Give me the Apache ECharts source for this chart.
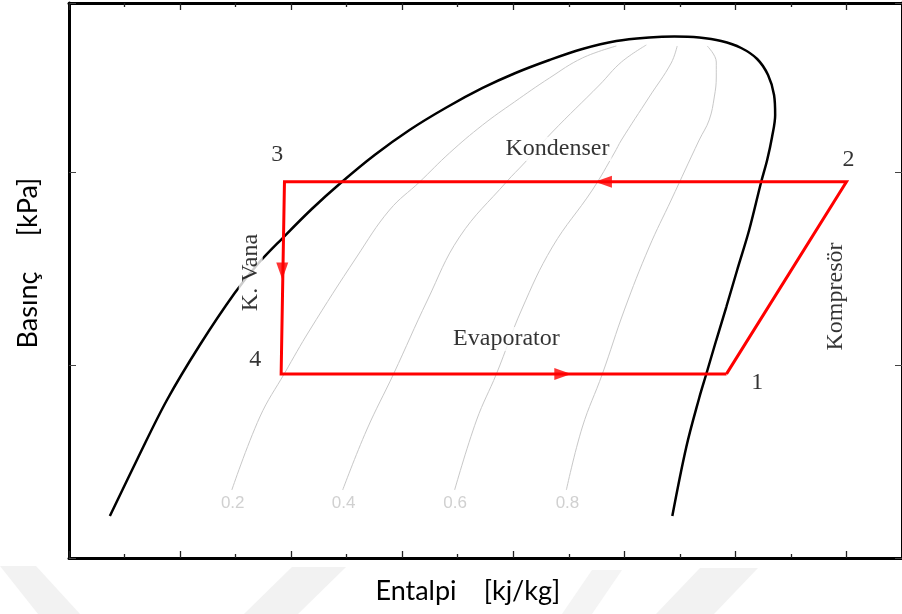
<!DOCTYPE html>
<html>
<head>
<meta charset="utf-8">
<title>Basınç - Entalpi</title>
<script src="https://cdn.jsdelivr.net/npm/echarts@6/dist/echarts.min.js"></script>
<style>
  html, body { margin: 0; padding: 0; background: #fff; }
  #chart { width: 902px; height: 614px; }
</style>
</head>
<body>
<div id="chart"></div>
<script>
// Saturation dome (liquid side -> critical region -> vapour side)
const domeEnthalpy = [168.4, 181.0, 194.1, 208.9, 224.6, 235.0, 246.2, 259.3, 272.8, 287.6, 303.3, 319.5, 336.2, 351.0, 366.3, 381.1, 396.4, 411.2, 422.5, 433.7, 443.6, 452.6, 459.8, 464.7, 467.4, 467.9, 466.5, 464.3, 461.6, 456.2, 450.8, 445.9, 441.4, 436.9, 433.7, 427.9, 421.6];
const domePressure = [108.8, 259.1, 409.4, 551.9, 686.6, 761.8, 829.1, 904.3, 974.2, 1044.2, 1109.0, 1166.0, 1217.8, 1256.6, 1290.3, 1318.8, 1339.5, 1348.6, 1351.2, 1348.6, 1339.5, 1321.4, 1292.9, 1251.4, 1199.6, 1147.8, 1090.8, 1031.2, 974.2, 849.8, 746.2, 650.3, 564.8, 476.7, 414.6, 287.6, 108.8];

// Constant-quality lines
const qualityLevels = ['0.2', '0.4', '0.6', '0.8'];
const q02Enthalpy = [223.3, 235.9, 247.1, 258.4, 279.5, 294.3, 307.8, 321.3, 336.2, 350.5, 366.3, 381.1, 396.4];
const q02Pressure = [176.2, 365.3, 479.3, 590.7, 779.9, 901.7, 974.2, 1049.4, 1121.9, 1181.5, 1243.7, 1295.5, 1326.6];
const q04Enthalpy = [273.2, 284.0, 296.1, 311.4, 325.8, 346.9, 355.0, 367.6, 388.8, 398.7, 409.9];
const q04Pressure = [176.2, 331.6, 476.7, 668.5, 831.7, 974.2, 1023.4, 1103.8, 1225.5, 1285.1, 1329.2];
const q06Enthalpy = [323.6, 333.5, 342.4, 353.7, 367.6, 385.6, 395.5, 398.7, 411.2, 421.1, 423.8];
const q06Pressure = [176.2, 357.6, 476.7, 642.6, 805.8, 953.5, 1049.4, 1083.0, 1194.5, 1282.5, 1326.6];
const q08Enthalpy = [373.9, 381.1, 390.1, 400.0, 411.2, 421.1, 433.7, 438.2, 440.5, 441.4, 441.4, 437.3];
const q08Pressure = [176.2, 339.4, 476.7, 642.6, 805.8, 927.6, 1083.0, 1134.9, 1194.5, 1246.3, 1285.1, 1326.6];
const qualityLabelEnthalpy = [223.7, 273.6, 323.8, 374.4];
const qualityLabelPressure = [142.5, 142.5, 142.5, 142.5];

// Refrigeration cycle 1 -> 2 -> 3 -> 4 -> 1
const cycleEnthalpy = [446.0, 500.0, 247.0, 245.5, 446.0];
const cyclePressure = [477, 975, 975, 477, 477];

// Flow direction arrows (on 2-3, 3-4, 4-1)
const arrowEnthalpy = [390.6, 246.0, 372.3];
const arrowPressure = [975, 743.6, 477];
const arrowAngle = [90, 180, -90];

// State point numbers and component names
const stateNames = ['1', '2', '3', '4'];
const stateEnthalpy = [459.8, 500.9, 243.7, 233.9];
const statePressure = [453.4, 1032.5, 1044.2, 514.3];
const componentNames = ['Kondenser', 'Evaporator', 'K. Vana', 'Kompresör'];
const componentEnthalpy = [369.9, 346.9, 231.8, 495.3];
const componentPressure = [1059.7, 567.4, 739.7, 677.5];
const componentVertical = [false, false, true, true];

const zip = (xs, ys) => xs.map((x, i) => [x, ys[i]]);

const serifText = {
  fontFamily: 'Liberation Serif', fontSize: 24, color: '#000',
  textBorderWidth: 0, textBorderColor: 'transparent', textShadowBlur: 0
};

function frameX(position) {
  return {
    type: 'value', position: position, min: 150, max: 525, interval: 50,
    axisLine: { show: true, onZero: false, lineStyle: { color: '#000', width: 3 } },
    axisTick: { show: true, inside: true, length: 7, lineStyle: { color: '#222', width: 1.3 } },
    minorTick: { show: true, splitNumber: 2, length: 4, lineStyle: { color: '#222', width: 1.3 } },
    axisLabel: { show: false }, splitLine: { show: false }, minorSplitLine: { show: false }
  };
}
function frameY(position) {
  return {
    type: 'value', position: position, min: 0, max: 1438, interval: 500,
    axisLine: { show: true, onZero: false, lineStyle: { color: '#000', width: 3 } },
    axisTick: { show: true, inside: true, length: 7, lineStyle: { color: '#444', width: 1 } },
    axisLabel: { show: false }, splitLine: { show: false }
  };
}

function qualitySeries(h, p) {
  return {
    type: 'line', data: zip(h, p), smooth: 0.4, showSymbol: false, silent: true, z: 1,
    lineStyle: { color: '#c8c8c8', width: 1 }
  };
}

const axisTitle = { fontFamily: 'Lato', fontSize: 27, fill: '#000', align: 'center', verticalAlign: 'middle' };

const chart = echarts.init(document.getElementById('chart'), null, { renderer: 'canvas' });

chart.setOption({
  animation: false,
  backgroundColor: '#fff',
  grid: { left: 69, top: 3, width: 834, height: 555 },
  xAxis: [frameX('bottom'), frameX('top')],
  yAxis: [frameY('left'), frameY('right')],
  graphic: [
    { type: 'polygon', silent: true, z: -10, shape: { points: [[0, 566], [36, 566], [80, 614], [38, 614]] }, style: { fill: '#f2f2f2' } },
    { type: 'polygon', silent: true, z: -10, shape: { points: [[292, 567], [346, 567], [298, 614], [244, 614]] }, style: { fill: '#f2f2f2' } },
    { type: 'polygon', silent: true, z: -10, shape: { points: [[592, 570], [622, 570], [592, 614], [562, 614]] }, style: { fill: '#f4f4f4' } },
    { type: 'polygon', silent: true, z: -10, shape: { points: [[700, 568], [758, 568], [714, 614], [656, 614]] }, style: { fill: '#f2f2f2' } },
    { type: 'text', x: 416, y: 591, z: 10, style: Object.assign({ text: 'Entalpi' }, axisTitle) },
    { type: 'text', x: 522, y: 591, z: 10, style: Object.assign({ text: '[kj/kg]' }, axisTitle) },
    { type: 'text', x: 28, y: 310, rotation: Math.PI / 2, z: 10, style: Object.assign({ text: 'Basınç' }, axisTitle) },
    { type: 'text', x: 28, y: 207, rotation: Math.PI / 2, z: 10, style: Object.assign({ text: '[kPa]' }, axisTitle) }
  ],
  series: [
    qualitySeries(q02Enthalpy, q02Pressure),
    qualitySeries(q04Enthalpy, q04Pressure),
    qualitySeries(q06Enthalpy, q06Pressure),
    qualitySeries(q08Enthalpy, q08Pressure),
    {
      type: 'scatter', symbolSize: 0, silent: true, z: 3,
      data: qualityLevels.map((q, i) => ({ name: q, value: [qualityLabelEnthalpy[i], qualityLabelPressure[i]] })),
      label: {
        show: true, position: 'inside', formatter: '{b}', fontFamily: 'Liberation Sans', fontSize: 17,
        color: '#c4c4c4', textBorderWidth: 0, textBorderColor: 'transparent'
      }
    },
    {
      type: 'line', data: zip(domeEnthalpy, domePressure), smooth: 0.35, showSymbol: false, silent: true, z: 2,
      lineStyle: { color: '#000', width: 2.5 }
    },
    {
      type: 'line', data: zip(cycleEnthalpy, cyclePressure), showSymbol: false, silent: true, z: 5,
      lineStyle: { color: '#ff0000', width: 3, join: 'miter', cap: 'butt' }
    },
    {
      type: 'scatter', silent: true, z: 6, symbol: 'triangle', symbolSize: [12, 17],
      data: arrowEnthalpy.map((h, i) => ({ value: [h, arrowPressure[i]], symbolRotate: arrowAngle[i] })),
      itemStyle: { color: '#ff0000' }
    },
    {
      type: 'scatter', symbolSize: 0, silent: true, z: 8,
      data: stateNames.map((s, i) => ({ name: s, value: [stateEnthalpy[i], statePressure[i]] })),
      label: Object.assign({ show: true, position: 'inside', formatter: '{b}' }, serifText)
    },
    {
      type: 'scatter', symbolSize: 0, silent: true, z: 9,
      data: componentNames.map((s, i) => ({
        name: s,
        value: [componentEnthalpy[i], componentPressure[i]],
        label: { rotate: componentVertical[i] ? 90 : 0 }
      })),
      label: Object.assign({
        show: true, position: 'inside', formatter: '{b}',
        backgroundColor: '#fff', lineHeight: 24, padding: [0, 2]
      }, serifText)
    }
  ]
});
</script>
</body>
</html>
